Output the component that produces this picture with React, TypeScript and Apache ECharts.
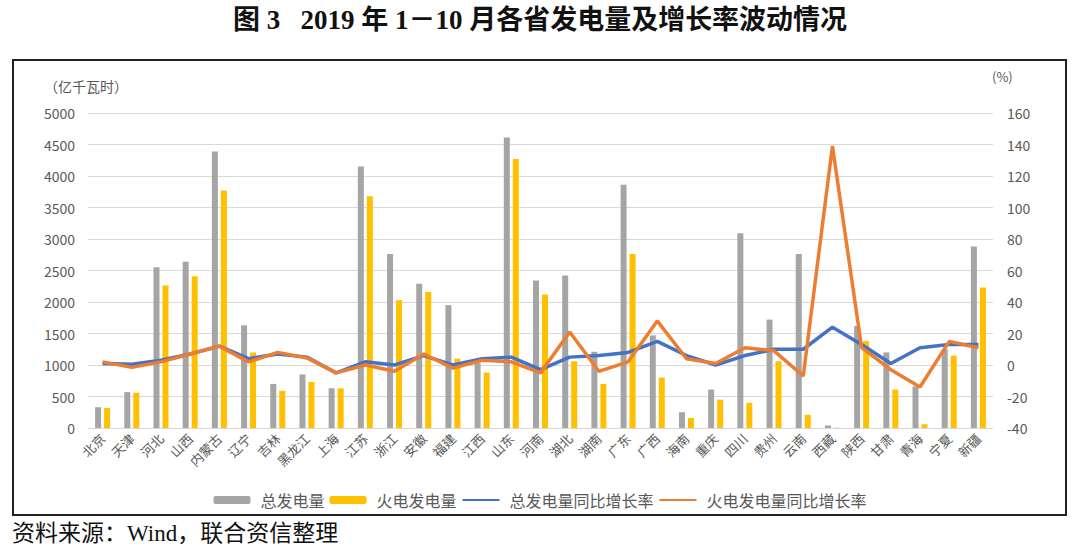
import React, { useEffect, useRef } from "react";
import * as echarts from "echarts";

const provinces = ["北京","天津","河北","山西","内蒙古","辽宁","吉林","黑龙江","上海","江苏","浙江","安徽","福建","江西","山东","河南","湖北","湖南","广东","广西","海南","重庆","四川","贵州","云南","西藏","陕西","甘肃","青海","宁夏","新疆"];
const totalGen = [330,570,2550,2640,4390,1630,700,850,630,4150,2760,2290,1950,1030,4610,2340,2420,1210,3860,1470,250,610,3090,1720,2760,40,1620,1200,660,1250,2880];
const thermalGen = [320,560,2260,2410,3770,1200,590,730,630,3680,2030,2160,1100,880,4270,2120,1060,700,2760,800,160,450,400,1060,210,5,1380,610,60,1150,2230];
const totalGrowth = [1,0.5,3,7,12,4,7,5,-5,2,0,6,0,4,5,-3,5,6,8,15,6,0,6,10,10,24,13,1,11,13,13];
const thermalGrowth = [2,-1.5,2,7,12,2,8,4.5,-5,0,-4,7,-2,3,2,-5,21,-4,2,28,4,1,11,9,-7,139,11,-3,-14,15,11];
const leftTicks = { min: 0, max: 5000, interval: 500 };
const rightTicks = { min: -40, max: 160, interval: 20 };

const GRAY = "#a5a5a5";
const YELLOW = "#ffc000";
const BLUE = "#4472c4";
const ORANGE = "#ed7d31";
const TXT = "#595959";
const SANS = "'Noto Sans CJK SC', 'Liberation Sans', sans-serif";
const SERIF = "'Liberation Serif', 'Noto Sans CJK SC', serif";

export default function App() {
  const ref = useRef<HTMLDivElement>(null);
  useEffect(() => {
    if (!ref.current) return;
    const chart = echarts.init(ref.current, null, { renderer: "svg" });
    chart.setOption({
      animation: false,
      backgroundColor: "#ffffff",
      textStyle: { fontFamily: SANS },
      graphic: [
        { type: "text", left: "center", top: 6, style: { text: "图 3   2019 年 1－10 月各省发电量及增长率波动情况", font: `bold 27px ${SERIF}`, fill: "#111" } },
        { type: "rect", shape: { x: 13, y: 60, width: 1053, height: 455 }, style: { fill: "none", stroke: "#222", lineWidth: 2 } },
        { type: "text", x: 44, y: 79, style: { text: "（亿千瓦时）", font: `14px ${SANS}`, fill: TXT } },
        { type: "text", x: 992, y: 70, style: { text: "(%)", font: `13px ${SANS}`, fill: TXT } },
        { type: "text", x: 12, y: 522, style: { text: "资料来源：Wind，联合资信整理", font: `23px ${SERIF}`, fill: "#111" } },
      ],
      grid: { left: 88, right: 87, top: 113, bottom: 125, containLabel: false },
      legend: {
        top: 487,
        left: "center",
        itemWidth: 37,
        itemHeight: 8,
        itemGap: 5,
        textStyle: { color: TXT, fontSize: 16, fontFamily: SANS, padding: [0, 0, 0, 5] },
        data: [
          { name: "总发电量" },
          { name: "火电发电量" },
          { name: "总发电量同比增长率", itemStyle: { opacity: 0 } },
          { name: "火电发电量同比增长率", itemStyle: { opacity: 0 } },
        ],
      },
      xAxis: {
        type: "category",
        data: provinces,
        axisLine: { lineStyle: { color: "#d9d9d9" } },
        axisTick: { show: false },
        axisLabel: { interval: 0, rotate: 45, color: TXT, fontSize: 13, margin: 8 },
      },
      yAxis: [
        {
          type: "value",
          ...leftTicks,
          axisLine: { show: false },
          axisTick: { show: false },
          axisLabel: { color: TXT, fontSize: 14, margin: 13, formatter: (v: number) => String(v) },
          splitLine: { lineStyle: { color: "#d9d9d9" } },
        },
        {
          type: "value",
          ...rightTicks,
          position: "right",
          axisLine: { show: false },
          axisTick: { show: false },
          axisLabel: { color: TXT, fontSize: 14, margin: 14, formatter: (v: number) => String(v) },
          splitLine: { show: false },
        },
      ],
      series: [
        { name: "总发电量", type: "bar", data: totalGen, barWidth: 6, barGap: "50%", itemStyle: { color: GRAY } },
        { name: "火电发电量", type: "bar", data: thermalGen, barWidth: 6, itemStyle: { color: YELLOW } },
        { name: "总发电量同比增长率", type: "line", yAxisIndex: 1, data: totalGrowth, symbol: "none", lineStyle: { color: BLUE, width: 3.5 }, itemStyle: { color: BLUE } },
        { name: "火电发电量同比增长率", type: "line", yAxisIndex: 1, data: thermalGrowth, symbol: "none", lineStyle: { color: ORANGE, width: 3.5 }, itemStyle: { color: ORANGE } },
      ],
    });
    return () => chart.dispose();
  }, []);
  return <div ref={ref} style={{ position: "fixed", left: 0, top: 0, width: 1080, height: 553 }} />;
}
